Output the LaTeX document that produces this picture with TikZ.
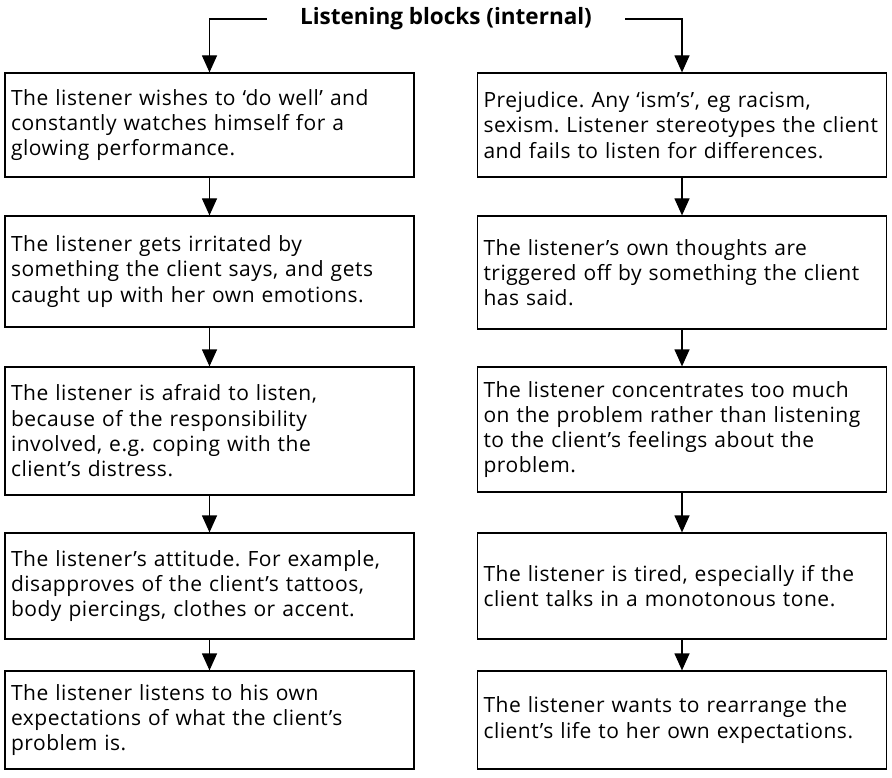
\documentclass[tikz,border=0pt]{standalone}
\usepackage{fontspec}
\setmainfont{Open Sans}
\newfontfamily\boxfont[LetterSpace=2.5]{Open Sans}
\usetikzlibrary{arrows.meta}

\tikzset{
  blockbox/.style={rectangle,
      draw=black,
      line width=1.2pt,
      text width=397pt,
      inner xsep=6pt,
      inner ysep=4pt,
      align=left,
      font=\boxfont\fontsize{21}{25.3}\selectfont\frenchspacing},
  flow/.style={line width=1.2pt,
      -{Triangle[width=15pt,length=17pt]}}
}

\begin{document}
\begin{tikzpicture}[x=1pt,y=-1pt]
\useasboundingbox (0,0) rectangle (892,778);
\node[font=\bfseries\fontsize{22.5}{26}\selectfont] (title) at (446,19) {Listening blocks (internal)};

\node[blockbox, minimum height=104pt] (l1) at (209.5,125)
{The listener wishes to ‘do well’ and\\ constantly watches himself for a\\ glowing performance.};
\node[blockbox, minimum height=111pt] (l2) at (209.5,271.5)
{The listener gets irritated by\\ something the client says, and gets\\ caught up with her own emotions.};
\node[blockbox, minimum height=128pt] (l3) at (209.5,431)
{The listener is afraid to listen,\\ because of the responsibility\\ involved, e.g. coping with the\\ client’s distress.};
\node[blockbox, minimum height=106pt] (l4) at (209.5,586)
{The listener’s attitude. For example,\\ disapproves of the client’s tattoos,\\ body piercings, clothes or accent.};
\node[blockbox, minimum height=98pt] (l5) at (209.5,720)
{The listener listens to his own\\ expectations of what the client’s\\ problem is.};

\node[blockbox, minimum height=104pt] (r1) at (682,125)
{Prejudice. Any ‘ism’s’, eg racism,\\ sexism. Listener stereotypes the client\\ and fails to listen for differences.};
\node[blockbox, minimum height=113pt] (r2) at (682,272.5)
{The listener’s own thoughts are\\ triggered off by something the client\\ has said.};
\node[blockbox, minimum height=125pt] (r3) at (682,429.5)
{The listener concentrates too much\\ on the problem rather than listening\\ to the client’s feelings about the\\ problem.};
\node[blockbox, minimum height=106pt] (r4) at (682,586)
{The listener is tired, especially if the\\ client talks in a monotonous tone.};
\node[blockbox, minimum height=98pt] (r5) at (682,720)
{The listener wants to rearrange the\\ client’s life to her own expectations.};

\draw[flow] ([xshift=-30pt]title.west) -| (l1.north);
\draw[flow] ([xshift=30pt]title.east) -| (r1.north);
\foreach \a/\b in {l1/l2,l2/l3,l3/l4,l4/l5,r1/r2,r2/r3,r3/r4,r4/r5}
  \draw[flow] (\a.south) -- (\b.north);
\end{tikzpicture}
\end{document}
